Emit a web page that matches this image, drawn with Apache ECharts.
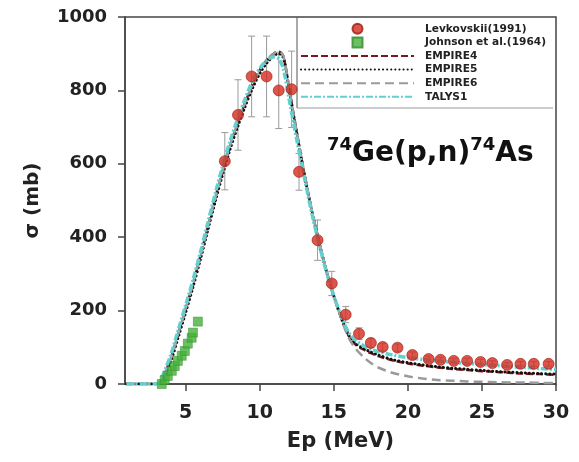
<!DOCTYPE html>
<html>
<head>
<meta charset="utf-8">
<script src="https://cdn.jsdelivr.net/npm/echarts@6/dist/echarts.min.js"></script>
<style>
  html, body { margin: 0; padding: 0; background: #fff; }
  #chart { width: 579px; height: 462px; }
</style>
</head>
<body>
<div id="chart"></div>
<script>
// experimental data
const levE = [7.64, 8.53, 9.45, 10.46, 11.28, 12.15, 12.65, 13.9, 14.86, 15.8, 16.7, 17.5, 18.3, 19.3, 20.3, 21.4, 22.2, 23.1, 24.0, 24.9, 25.7, 26.7, 27.6, 28.5, 29.5];
const levS = [607, 733, 838, 838, 800, 803, 578, 392, 274, 189, 137, 112, 101, 99, 79, 68, 66, 63, 63, 60, 57, 52, 55, 55, 55];
const levErr = [78, 96, 110, 110, 104, 104, 50, 55, 33, 22, 16, 12, 10, 10, 8, 8, 7, 7, 7, 7, 6, 6, 6, 6, 6];

const johE = [3.38, 3.58, 3.79, 4.06, 4.26, 4.47, 4.73, 4.94, 5.14, 5.4, 5.49, 5.82];
const johS = [0, 11, 22, 36, 49, 63, 77, 90, 110, 126, 140, 170];

// model calculations, same energy grid
const curveE = [1, 2, 3, 3.3, 3.5, 4, 4.5, 5, 5.5, 6, 6.5, 7, 7.5, 8, 8.5, 9, 9.5, 10, 10.5, 11, 11.3, 11.6, 12, 12.5, 13, 13.5, 14, 14.5, 15, 15.5, 16, 16.5, 17, 17.5, 18, 19, 20, 21, 22, 23, 24, 25, 26, 27, 28, 29, 30];
const empire4 = [0, 0, 0, 5, 22, 70, 138, 205, 275, 350, 430, 508, 582, 650, 712, 766, 815, 855, 884, 902, 905, 892, 800, 685, 575, 475, 388, 308, 240, 180, 132, 106, 94, 84, 76, 64, 56, 50, 45, 41, 38, 35, 33, 30, 28, 27, 25];
const empire5 = [0, 0, 0, 2, 15, 62, 128, 195, 265, 340, 420, 498, 572, 640, 700, 755, 805, 846, 876, 896, 900, 888, 798, 683, 573, 474, 387, 307, 239, 180, 134, 110, 97, 87, 79, 66, 58, 52, 47, 43, 40, 37, 34, 32, 30, 28, 27];
const empire6 = [0, 0, 0, 5, 22, 70, 138, 205, 275, 350, 430, 508, 582, 650, 712, 766, 815, 855, 884, 902, 906, 893, 802, 686, 575, 475, 388, 308, 240, 178, 126, 95, 74, 57, 45, 30, 21, 15, 11, 9, 7, 6, 5, 4, 4, 3, 3];
const talys1 = [0, 0, 0, 8, 28, 80, 148, 215, 285, 360, 440, 520, 595, 662, 722, 776, 825, 860, 883, 892, 885, 858, 772, 665, 565, 468, 382, 305, 240, 185, 140, 118, 104, 95, 88, 79, 72, 67, 63, 59, 56, 53, 50, 47, 45, 42, 40];

const xTicks = [5, 10, 15, 20, 25, 30];

const FONT = "DejaVu Sans";
const pairs = (xs, ys) => xs.map((x, i) => [x, ys[i]]);

function renderErr(params, api) {
  const x = api.value(0);
  const p1 = api.coord([x, api.value(2)]);
  const p2 = api.coord([x, api.value(1)]);
  const w = 3.5;
  const style = { stroke: "#9a9a9a", lineWidth: 1 };
  return {
    type: "group",
    children: [
      { type: "line", shape: { x1: p1[0], y1: p1[1], x2: p2[0], y2: p2[1] }, style: style },
      { type: "line", shape: { x1: p1[0] - w, y1: p1[1], x2: p1[0] + w, y2: p1[1] }, style: style },
      { type: "line", shape: { x1: p2[0] - w, y1: p2[1], x2: p2[0] + w, y2: p2[1] }, style: style },
    ],
  };
}

const chart = echarts.init(document.getElementById("chart"));

const lineSeries = (name, data, color, width, dash, cap) => ({
  name: name,
  type: "line",
  data: pairs(curveE, data),
  symbol: "none",
  smooth: 0.3,
  lineStyle: { color: color, width: width, type: dash, cap: cap || "butt" },
  itemStyle: { color: color },
  z: 3,
  animation: false,
});

// line-only legend entries (hide the marker the line legend icon adds)
const lineLegend = (name) => ({ name: name, itemStyle: { opacity: 0 } });

const option = {
  animation: false,
  grid: {
    left: 125, right: 23, top: 17, bottom: 78,
    show: true, borderColor: "#444", borderWidth: 1.5,
  },
  title: {
    text: "{sup|74}{main|Ge(p,n)}{sup|74}{main|As}",
    left: 322,
    top: 131,
    textStyle: {
      rich: {
        sup: { fontFamily: FONT, fontWeight: "bold", fontSize: 18, color: "#111", lineHeight: 20, verticalAlign: "top" },
        main: { fontFamily: FONT, fontWeight: "bold", fontSize: 28, color: "#111", lineHeight: 32, verticalAlign: "bottom" },
      },
    },
  },
  legend: {
    left: 300,
    top: 22,
    orient: "vertical",
    padding: 0,
    itemWidth: 113,
    itemHeight: 10,
    itemGap: 0,
    selectedMode: false,
    data: [
      { name: "Levkovskii(1991)", icon: "circle" },
      { name: "Johnson et al.(1964)", icon: "path://M0,0h10v10h-10z" },
      lineLegend("EMPIRE4"), lineLegend("EMPIRE5"), lineLegend("EMPIRE6"), lineLegend("TALYS1"),
    ],
    textStyle: {
      fontFamily: FONT, fontWeight: "bold", fontSize: 10.6, color: "#222",
      lineHeight: 13.6, padding: [0, 0, 0, 6],
    },
  },
  graphic: [
    {
      type: "line",
      shape: { x1: 297, y1: 17, x2: 297, y2: 108 },
      style: { stroke: "#555", lineWidth: 1 },
    },
    {
      type: "line",
      shape: { x1: 297, y1: 108, x2: 553, y2: 108 },
      style: { stroke: "#999", lineWidth: 1 },
    },
  ],
  xAxis: {
    type: "value",
    min: 0.9,
    max: 30,
    name: "Ep (MeV)",
    nameLocation: "middle",
    nameGap: 47,
    nameTextStyle: { fontFamily: FONT, fontWeight: "bold", fontSize: 21, color: "#222" },
    axisLine: { lineStyle: { color: "#444", width: 1.5 } },
    axisTick: { customValues: xTicks, length: 7, lineStyle: { color: "#444", width: 1.5 } },
    axisLabel: { customValues: xTicks, margin: 20, fontFamily: FONT, fontWeight: "bold", fontSize: 19, color: "#222" },
    splitLine: { show: false },
  },
  yAxis: {
    type: "value",
    min: 0,
    max: 1000,
    interval: 200,
    name: "σ (mb)",
    nameLocation: "middle",
    nameGap: 82,
    nameTextStyle: { fontFamily: FONT, fontWeight: "bold", fontSize: 20, color: "#222" },
    axisLine: { lineStyle: { color: "#444", width: 1.5 } },
    axisTick: { length: 7, lineStyle: { color: "#444", width: 1.5 } },
    axisLabel: {
      margin: 18, fontFamily: FONT, fontWeight: "bold", fontSize: 18, color: "#222",
      formatter: (v) => String(v),
    },
    splitLine: { show: false },
  },
  series: [
    {
      type: "custom",
      renderItem: renderErr,
      data: levE.map((e, i) => [e, levS[i] - levErr[i], levS[i] + levErr[i]]),
      encode: { x: 0, y: [1, 2] },
      z: 1,
      silent: true,
    },
    {
      name: "Levkovskii(1991)",
      type: "scatter",
      data: pairs(levE, levS),
      symbol: "circle",
      symbolSize: 11,
      itemStyle: { color: "#d42b1e", borderColor: "#9a1c12", borderWidth: 0.8 },
      z: 4,
    },
    {
      name: "Johnson et al.(1964)",
      type: "scatter",
      data: pairs(johE, johS),
      symbol: "rect",
      symbolSize: 9,
      itemStyle: { color: "#45b23a", borderColor: "#2f8a28", borderWidth: 0.6 },
      z: 4,
    },
    lineSeries("EMPIRE4", empire4, "#7a1b1b", 2.5, [7, 3]),
    lineSeries("EMPIRE5", empire5, "#111111", 3, [0.1, 4], "round"),
    lineSeries("EMPIRE6", empire6, "#9a9a9a", 2.5, [9, 5]),
    lineSeries("TALYS1", talys1, "#62cfd0", 3.5, [7, 2, 2, 2]),
  ],
};

chart.setOption(option);
</script>
</body>
</html>
